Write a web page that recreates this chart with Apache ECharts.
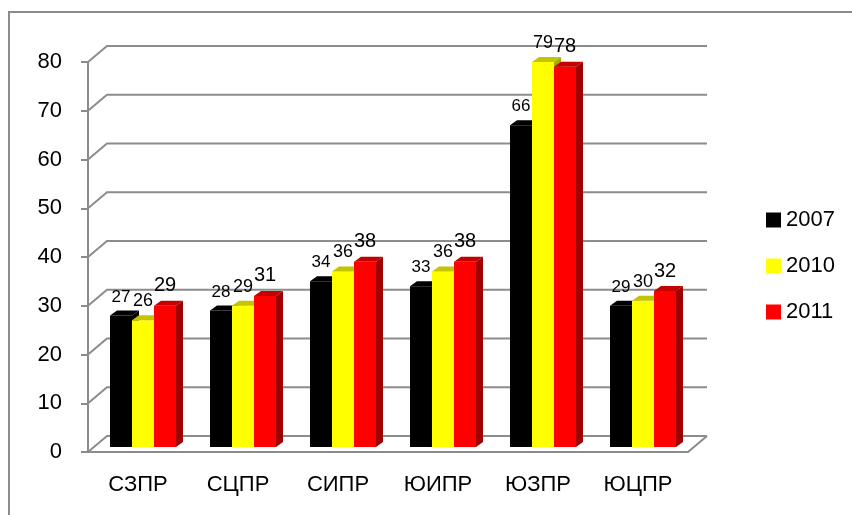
<!DOCTYPE html>
<html>
<head>
<meta charset="utf-8">
<script src="https://cdn.jsdelivr.net/npm/echarts@6/dist/echarts.min.js"></script>
<style>
    html, body { margin: 0; padding: 0; background: #fff; }
    #chart-container { width: 852px; height: 515px; }
</style>
</head>
<body>
<div id="chart-container"></div>
<script>
var categories = ['СЗПР', 'СЦПР', 'СИПР', 'ЮИПР', 'ЮЗПР', 'ЮЦПР'];
var yearNames = ['2007', '2010', '2011'];
var values2007 = [27, 28, 34, 33, 66, 29];
var values2010 = [26, 29, 36, 36, 79, 30];
var values2011 = [29, 31, 38, 38, 78, 32];
var yTicks = [0, 10, 20, 30, 40, 50, 60, 70, 80];

var FONT = 'Liberation Sans';
var LINE = '#8c8c8c';
var DEPTH_X = 19, DEPTH_Y = 16;   // back wall offset
var PLANE_X = 5, PLANE_Y = 5;     // where the bars stand
var BAR_W = 22, BAR_DX = 7, BAR_DY = 5;

// front / top / side colours of each year
var faces = [
    {front: '#000000', top: '#000000', side: '#000000', font: 17},
    {front: '#ffff00', top: '#c4c400', side: '#a8a800', font: 18},
    {front: '#ff0000', top: '#c40000', side: '#a00000', font: 20}
];

var chart = echarts.init(document.getElementById('chart-container'));

function renderWall(params, api) {
    var cs = params.coordSys;
    var y = api.coord([0, api.value(1)])[1];
    var left = cs.x, right = cs.x + cs.width;
    var style = {stroke: LINE, lineWidth: 2, fill: null};
    var children = [{
        type: 'polyline',
        shape: {points: [[left, y], [left + DEPTH_X, y - DEPTH_Y], [right + DEPTH_X, y - DEPTH_Y]]},
        style: style
    }];
    if (api.value(1) === 0) {
        children.push({
            type: 'line',
            shape: {x1: right, y1: y, x2: right + DEPTH_X, y2: y - DEPTH_Y},
            style: style
        });
    }
    return {type: 'group', children: children};
}

function makeBarRenderer(k) {
    return function (params, api) {
        var f = faces[k];
        var base = api.coord([api.value(0), 0]);
        var top = api.coord([api.value(0), api.value(1)]);
        var cx = base[0] + PLANE_X + (k - 1) * BAR_W;
        var x = cx - BAR_W / 2;
        var by = base[1] - PLANE_Y;
        var ty = top[1] - PLANE_Y;
        return {
            type: 'group',
            children: [{
                type: 'rect',
                shape: {x: x, y: ty, width: BAR_W, height: by - ty},
                style: {fill: f.front}
            }, {
                type: 'polygon',
                shape: {points: [[x, ty], [x + BAR_W, ty], [x + BAR_W + BAR_DX, ty - BAR_DY], [x + BAR_DX, ty - BAR_DY]]},
                style: {fill: f.top}
            }, {
                type: 'polygon',
                shape: {points: [[x + BAR_W, ty], [x + BAR_W + BAR_DX, ty - BAR_DY], [x + BAR_W + BAR_DX, by - BAR_DY], [x + BAR_W, by]]},
                style: {fill: f.side}
            }, {
                type: 'text',
                style: {
                    x: cx, y: ty - 10,
                    text: String(api.value(1)),
                    fill: '#000',
                    font: f.font + 'px "' + FONT + '"',
                    align: 'center',
                    verticalAlign: 'bottom'
                }
            }]
        };
    };
}

function toPairs(arr) {
    return arr.map(function (v, i) { return [i, v]; });
}

var yearValues = [values2007, values2010, values2011];

var series = [{
    name: 'wall',
    type: 'custom',
    silent: true,
    z: 1,
    renderItem: renderWall,
    data: yTicks.map(function (v) { return [0, v]; })
}];
yearNames.forEach(function (name, k) {
    series.push({
        name: name,
        type: 'custom',
        z: 2 + k,
        itemStyle: {color: faces[k].front},
        renderItem: makeBarRenderer(k),
        data: toPairs(yearValues[k])
    });
});

option = {
    animation: false,
    textStyle: {fontFamily: FONT},
    graphic: [{
        type: 'rect',
        shape: {x: 9, y: 12, width: 900, height: 600},
        style: {fill: null, stroke: LINE, lineWidth: 2},
        silent: true
    }],
    grid: {
        left: 88,
        top: 62,
        width: 600,
        height: 390
    },
    legend: {
        orient: 'vertical',
        left: 761,
        top: 204,
        icon: 'rect',
        itemWidth: 15,
        itemHeight: 15,
        itemGap: 24,
        textStyle: {fontSize: 22, color: '#000', fontFamily: FONT, padding: [0, 0, 0, 0]},
        data: yearNames
    },
    xAxis: {
        type: 'category',
        data: categories,
        axisLine: {lineStyle: {color: LINE, width: 2}},
        axisTick: {length: 8, lineStyle: {color: LINE, width: 2}},
        axisLabel: {fontSize: 22, color: '#000', margin: 22, fontFamily: FONT}
    },
    yAxis: {
        type: 'value',
        min: 0,
        max: 80,
        interval: 10,
        axisLine: {show: true, lineStyle: {color: LINE, width: 2}},
        axisTick: {show: true, length: 7, lineStyle: {color: LINE, width: 2}},
        axisLabel: {fontSize: 22, color: '#000', margin: 26, fontFamily: FONT},
        splitLine: {show: false}
    },
    series: series
};

chart.setOption(option);
</script>
</body>
</html>
